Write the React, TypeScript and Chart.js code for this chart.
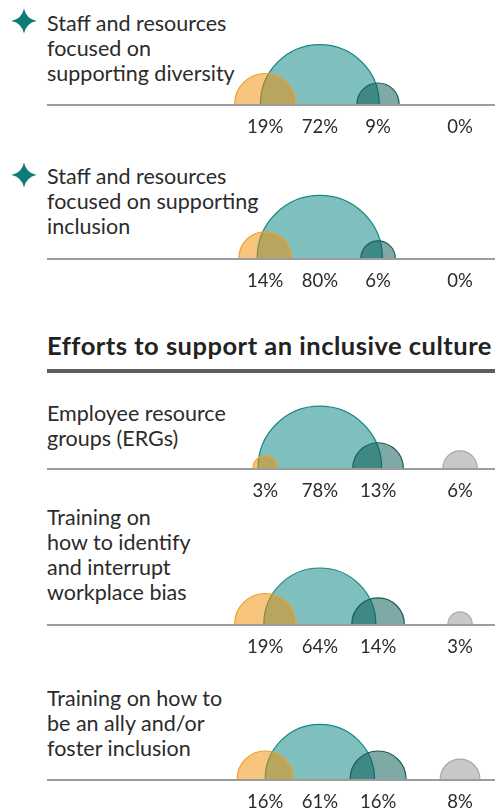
import React, { useEffect, useRef } from "react";
import { Chart, registerables } from "chart.js";

Chart.register(...registerables);

// ---- data ----
const seriesNames = ["Decreased", "Stayed the same", "Increased", "Don't know"];
const rowLabels: string[][] = [
  ["Staff and resources", "focused on", "supporting diversity"],
  ["Staff and resources", "focused on supporting", "inclusion"],
  ["Employee resource", "groups (ERGs)"],
  ["Training on", "how to identify", "and interrupt", "workplace bias"],
  ["Training on how to", "be an ally and/or", "foster inclusion"],
];
const starredRows = [true, true, false, false, false];
const decreasedValues = [19, 14, 3, 19, 16];
const sameValues = [72, 80, 78, 64, 61];
const increasedValues = [9, 6, 13, 14, 16];
const unknownValues = [0, 0, 6, 3, 8];
const sectionTitle = "Efforts to support an inclusive culture";

// ---- layout / style ----
const SLOTS = [48.7, 60.9, 73.9, 92.2]; // column centres on a 0..100 x scale
const RADIUS_K = 7.0; // px per sqrt(percent) -> area proportional to value
const FILLS = ["rgba(241,139,0,0.5)", "rgba(0,128,124,0.5)", "rgba(0,84,78,0.5)", "rgba(145,145,145,0.5)"];
const BORDERS = ["#F0A12C", "#1A8985", "#1B5C59", "#A9A9A9"];
const BASELINES = [104, 258, 468, 624, 779];
const LABEL_TOPS = [11, 164, 401, 505, 686];
const STAR_Y = [21, 175, 0, 0, 0];
const PLOT_H = 70;
const CANVAS_H = 100;
const FONT = "Lato, 'Open Sans', sans-serif";

function RowChart({ idx }: { idx: number }) {
  const ref = useRef<HTMLCanvasElement>(null);
  useEffect(() => {
    const values = [decreasedValues[idx], sameValues[idx], increasedValues[idx], unknownValues[idx]];
    const labelPlugin = {
      id: "baselineLabels",
      afterDatasetsDraw(chart: any) {
        const { ctx, chartArea } = chart;
        const xs = chart.scales.x;
        ctx.save();
        ctx.strokeStyle = "#9C9C9C";
        ctx.lineWidth = 2;
        ctx.beginPath();
        ctx.moveTo(chartArea.left, chartArea.bottom + 1);
        ctx.lineTo(chartArea.right, chartArea.bottom + 1);
        ctx.stroke();
        ctx.fillStyle = "#2B2B2B";
        ctx.font = "18.5px " + FONT;
        ctx.textAlign = "center";
        ctx.textBaseline = "middle";
        values.forEach((v, i) => {
          ctx.fillText(v + "%", xs.getPixelForValue(SLOTS[i]), chartArea.bottom + 23);
        });
        ctx.restore();
      },
    };
    const chart = new Chart(ref.current!, {
      type: "bubble",
      data: {
        datasets: values.map((v, i) => ({
          label: seriesNames[i],
          data: v > 0 ? [{ x: SLOTS[i], y: 0, r: RADIUS_K * Math.sqrt(v) }] : [],
          backgroundColor: FILLS[i],
          borderColor: BORDERS[i],
          borderWidth: 1.2,
          hoverRadius: 0,
          order: i === 1 ? 10 : 0,
          clip: { left: false, right: false, top: false, bottom: 0 } as any,
        })),
      },
      options: {
        responsive: false,
        animation: false,
        events: [],
        layout: { autoPadding: false, padding: { top: 0, bottom: CANVAS_H - PLOT_H, left: 0, right: 0 } },
        scales: {
          x: { type: "linear", min: 0, max: 100, display: false },
          y: { type: "linear", min: 0, max: 10, display: false },
        },
        plugins: { legend: { display: false }, tooltip: { enabled: false } },
      } as any,
      plugins: [labelPlugin],
    });
    return () => chart.destroy();
  }, [idx]);
  return (
    <canvas
      ref={ref}
      width={448}
      height={CANVAS_H}
      style={{ position: "absolute", left: 47, top: BASELINES[idx] - PLOT_H, width: 448, height: CANVAS_H }}
    />
  );
}

function Star({ cx, cy }: { cx: number; cy: number }) {
  return (
    <svg width={28} height={28} viewBox="-14 -14 28 28" style={{ position: "absolute", left: cx - 14, top: cy - 14 }}>
      <path d="M0,-12.5 Q2.2,-2.2 12.5,0 Q2.2,2.2 0,12.5 Q-2.2,2.2 -12.5,0 Q-2.2,-2.2 0,-12.5 Z" fill="#0E7B77" />
    </svg>
  );
}

export default function App() {
  return (
    <div
      style={{
        position: "fixed",
        left: 0,
        top: 0,
        width: 495,
        height: 810,
        overflow: "hidden",
        background: "#fff",
        fontFamily: FONT,
        color: "#2B2B2B",
      }}
    >
      {rowLabels.map((lines, i) => (
        <div
          key={"l" + i}
          style={{ position: "absolute", left: 47, top: LABEL_TOPS[i], fontSize: 21.5, lineHeight: "25px", whiteSpace: "nowrap" }}
        >
          {lines.map((t, j) => (
            <div key={j}>{t}</div>
          ))}
        </div>
      ))}
      {starredRows.map((s, i) => (s ? <Star key={"s" + i} cx={24} cy={STAR_Y[i]} /> : null))}
      <div
        style={{
          position: "absolute",
          left: 47,
          top: 330,
          fontSize: 25.5,
          fontWeight: 700,
          letterSpacing: 0.5,
          lineHeight: "30px",
          whiteSpace: "nowrap",
          color: "#222",
        }}
      >
        {sectionTitle}
      </div>
      <div style={{ position: "absolute", left: 47, top: 369, width: 448, height: 4, background: "#5E5E5E" }} />
      {rowLabels.map((_, i) => (
        <RowChart key={"c" + i} idx={i} />
      ))}
    </div>
  );
}
